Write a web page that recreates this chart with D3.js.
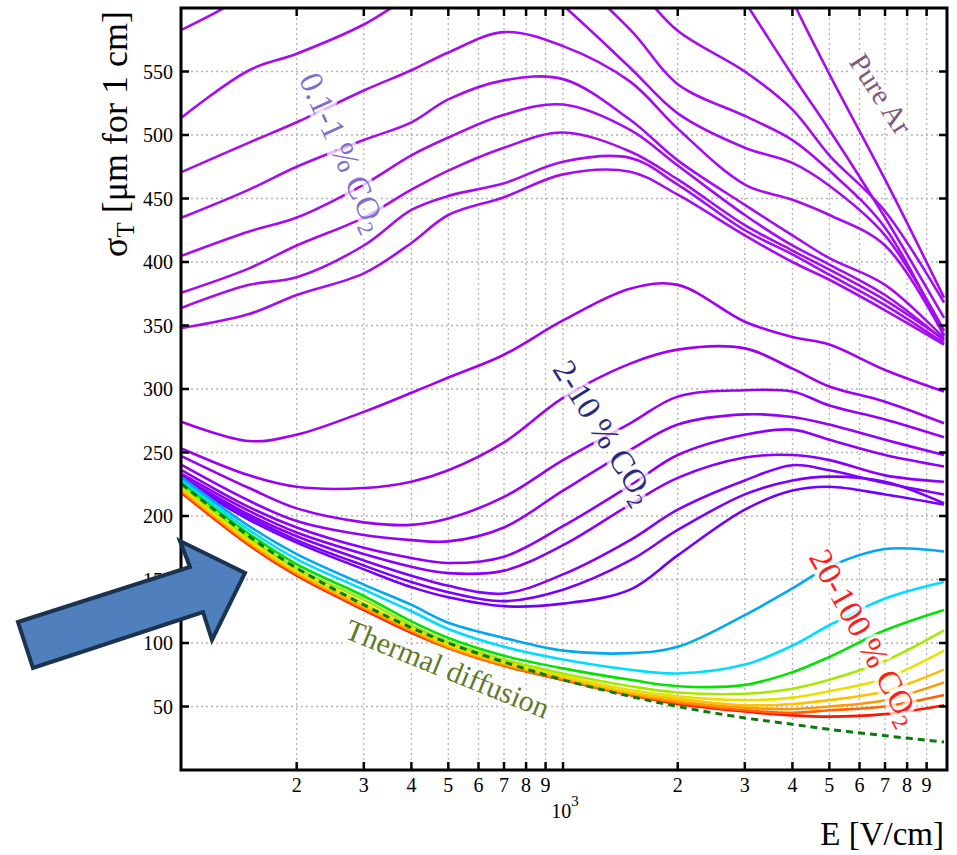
<!DOCTYPE html>
<html>
<head>
<meta charset="utf-8">
<script src="https://cdn.jsdelivr.net/npm/d3@7"></script>
<style>
  body{margin:0;background:#fff;}
  svg{display:block;}
  text{font-family:"Liberation Serif","DejaVu Serif",serif;}
</style>
</head>
<body>
<div id="chart"></div>
<script>
var eField = [100,150,200,300,400,500,700,1000,1500,2000,3000,4000,5000,7000,10000];

// pure Ar + 0.1-1 % CO2 (values > 600 run off the top of the frame)
var pureAr1 = [null,null,null,null,null,null,null,null,null,null,690,606,548,465,372];
var pureAr2 = [null,null,null,null,null,null,null,null,null,685,605,547,504,435,356];
var lowA = [null,null,null,null,null,null,null,660,621,582,550,520,484,440,368];
var lowB = [583,612,645,665,670,665,640,602,553,517,490,478,460,421,346];
var lowC = [514,551,564,587,610,625,640,628,583,540,515,496,472,427,342];
var lowD = [471,494,510,535,551,565,581,570,542,505,461,449,437,413,342];
var lowE = [435,457,475,496,510,528,543,544,512,480,445,421,403,382,340];
var lowF = [405,424,435,461,484,498,516,524,504,476,437,413,398,374,338];
var lowG = [376,395,413,435,457,472,490,502,487,465,429,409,394,370,339];
var lowH = [364,382,388,413,441,452,462,479,482,461,425,406,390,366,336];
var lowI = [348,359,374,391,415,437,451,469,471,453,421,400,386,362,335];

// 2-10 % CO2
var midA = [274,259,264,282,297,309,327,354,379,382,353,341,335,315,298];
var midB = [253,232,223,222,227,236,258,293,320,331,332,316,302,290,273];
var midC = [247,222,206,195,193,198,215,244,273,294,299,298,287,276,262];
var midD = [240,212,196,185,181,180,191,220,252,272,280,278,272,260,248];
var midE = [236,207,191,175,167,163,168,192,224,248,264,268,260,248,239];
var midF = [233,204,187,170,160,155,157,177,209,230,246,248,244,232,227];
var midG = [231,201,184,165,153,145,139,154,181,205,228,240,236,226,217];
var midH = [229,199,181,161,148,140,133,142,165,189,217,228,231,227,210];
var midI = [228,197,179,158,144,136,129,131,142,169,205,220,223,217,209];

// 20-100 % CO2
var highA = [230,192,170,146,130,116,104,94,92,97,122,143,160,174,172];
var highB = [228,189,166,142,125,111,97,87,79,76,83,98,114,135,148];
var highC = [226,186,162,137,117,104,90,80,71,66,67,77,89,110,126];
var highD = [224,183,159,134,114,101,87,76,66,61,60,64,71,86,110];
var highE = [222,181,157,131,112,99,85,74,63,58,55,57,62,72,94];
var highF = [221,180,156,129,111,98,84,73,61,56,51,52,55,62,79];
var highG = [220,179,155,128,110,97,83,72,60,54,49,48,50,55,69];
var highH = [219,178,154,127,109,96,82,71,59,53,47,45,47,50,59];
var highI = [218,177,153,126,108,96,82,71,59,52,46,43,42,44,51];

// thermal diffusion limit
var thermal = [225,184,159,130,112,100,85,71,58,50,41,36,32,27,22];

// axis ticks
var xTicks = [200,300,400,500,600,700,800,900,1000,2000,3000,4000,5000,6000,7000,8000,9000];
var xTickLabels = ['2','3','4','5','6','7','8','9','','2','3','4','5','6','7','8','9'];
var yTicks = [50,100,150,200,250,300,350,400,450,500,550];

var lowSeries = [pureAr1,pureAr2,lowA,lowB,lowC,lowD,lowE,lowF,lowG,lowH,lowI];
var midSeries = [midA,midB,midC,midD,midE,midF,midG,midH,midI];
var highSeries = [highA,highB,highC,highD,highE,highF,highG,highH,highI];
var midColors = ['#a200f2','#9e00f3','#9a00f5','#9500f7','#9000f8','#8a00fa','#8300fb','#7c00fd','#7300ff'];
var highColors = ['#00a8f0','#00dcff','#00e400','#a8e800','#e8e000','#ffc000','#ff9800','#ff6400','#ff1400'];

var m = {t:8, r:10, b:85, l:181},
    w = 947 - m.l,
    h = 770 - m.t;

var svg = d3.select('#chart').append('svg')
    .attr('width', 957)
    .attr('height', 855);

var x = d3.scaleLog().domain([99.4, 10180]).range([0, w]),
    y = d3.scaleLinear().domain([0, 600]).range([h, 0]);

var plot = svg.append('g').attr('transform', 'translate(' + m.l + ',' + m.t + ')');

plot.append('clipPath').attr('id', 'clip')
  .append('rect').attr('width', w).attr('height', h);

//grid
plot.selectAll('.gx').data(xTicks).enter().append('line')
    .attr('x1', function(d){ return x(d); }).attr('x2', function(d){ return x(d); })
    .attr('y1', 0).attr('y2', h)
    .attr('stroke', '#b4b4b4').attr('stroke-width', 1.3).attr('stroke-dasharray', '2,3');
plot.selectAll('.gy').data(yTicks).enter().append('line')
    .attr('y1', function(d){ return y(d); }).attr('y2', function(d){ return y(d); })
    .attr('x1', 0).attr('x2', w)
    .attr('stroke', '#b4b4b4').attr('stroke-width', 1.3).attr('stroke-dasharray', '2,3');

//curves
var line = d3.line()
    .defined(function(d){ return d[1] != null; })
    .x(function(d){ return x(d[0]); })
    .y(function(d){ return y(d[1]); })
    .curve(d3.curveCatmullRom.alpha(0.5));

function pts(vals){ return eField.map(function(e, i){ return [e, vals[i]]; }); }

var curves = plot.append('g').attr('clip-path', 'url(#clip)');

curves.selectAll('.low').data(lowSeries).enter().append('path')
    .attr('d', function(d){ return line(pts(d)); })
    .attr('fill', 'none').attr('stroke', '#a60cf0').attr('stroke-width', 2.6);

curves.selectAll('.mid').data(midSeries).enter().append('path')
    .attr('d', function(d){ return line(pts(d)); })
    .attr('fill', 'none')
    .attr('stroke', function(d, i){ return midColors[i]; })
    .attr('stroke-width', 2.6);

curves.selectAll('.high').data(highSeries.slice().reverse()).enter().append('path')
    .attr('d', function(d){ return line(pts(d)); })
    .attr('fill', 'none')
    .attr('stroke', function(d, i){ return highColors[highColors.length - 1 - i]; })
    .attr('stroke-width', 2.6);

curves.append('path')
    .attr('d', line(pts(thermal)))
    .attr('fill', 'none').attr('stroke', '#0c7a0c')
    .attr('stroke-width', 3).attr('stroke-dasharray', '7,5');

//curve labels, white halo fades the lines underneath
function label(txt, sub, cx, cy, ang, size, color){
  var t = plot.append('text')
      .attr('transform', 'translate(' + cx + ',' + cy + ') rotate(' + ang + ')')
      .attr('text-anchor', 'middle')
      .attr('dominant-baseline', 'central')
      .attr('font-size', size)
      .attr('fill', color)
      .attr('stroke', 'rgba(255,255,255,0.72)')
      .attr('stroke-width', 9)
      .attr('paint-order', 'stroke')
      .attr('stroke-linejoin', 'round');
  t.append('tspan').text(txt);
  if(sub){
    t.append('tspan').attr('font-size', size * 0.68).attr('dy', size * 0.3).text(sub);
  }
}
label('0.1-1 % CO', '2', 343 - m.l, 152 - m.t, 66, 33, '#7e70cc');
label('2-10 % CO', '2', 604 - m.l, 432 - m.t, 58, 33, '#2a2a7c');
label('Pure Ar', null, 881 - m.l, 94 - m.t, 57, 29, '#7c5a7e');
label('20-100 % CO', '2', 865 - m.l, 637 - m.t, 61, 33, '#ff1c1c');
label('Thermal diffusion', null, 448 - m.l, 668 - m.t, 22, 30, '#5f7a28');

//frame and ticks
plot.append('rect').attr('width', w).attr('height', h)
    .attr('fill', 'none').attr('stroke', '#000').attr('stroke-width', 3);

var tk = 8;
xTicks.forEach(function(d){
  plot.append('line').attr('x1', x(d)).attr('x2', x(d)).attr('y1', h).attr('y2', h - tk)
      .attr('stroke', '#000').attr('stroke-width', 2.5);
  plot.append('line').attr('x1', x(d)).attr('x2', x(d)).attr('y1', 0).attr('y2', tk)
      .attr('stroke', '#000').attr('stroke-width', 2.5);
});
yTicks.forEach(function(d){
  plot.append('line').attr('y1', y(d)).attr('y2', y(d)).attr('x1', 0).attr('x2', tk)
      .attr('stroke', '#000').attr('stroke-width', 2.5);
  plot.append('line').attr('y1', y(d)).attr('y2', y(d)).attr('x1', w).attr('x2', w - tk)
      .attr('stroke', '#000').attr('stroke-width', 2.5);
});

//tick labels
plot.selectAll('.xl').data(xTicks).enter().append('text')
    .attr('x', function(d){ return x(d); })
    .attr('y', h + 22)
    .attr('text-anchor', 'middle')
    .attr('font-size', 20)
    .text(function(d, i){ return xTickLabels[i]; });

var dec = plot.append('text')
    .attr('x', x(1000) + 2).attr('y', h + 48)
    .attr('text-anchor', 'middle').attr('font-size', 20);
dec.append('tspan').text('10');
dec.append('tspan').attr('font-size', 15).attr('dy', -12).text('3');

plot.selectAll('.yl').data(yTicks).enter().append('text')
    .attr('x', -8)
    .attr('y', function(d){ return y(d); })
    .attr('dy', '0.35em')
    .attr('text-anchor', 'end')
    .attr('font-size', 20)
    .text(String);

//axis titles
var yt = svg.append('text')
    .attr('transform', 'translate(127,134) rotate(-90)')
    .attr('text-anchor', 'middle')
    .attr('font-size', 36);
yt.append('tspan').text('σ');
yt.append('tspan').attr('font-size', 25).attr('dy', 7).text('T');
yt.append('tspan').attr('dy', -7).text(' [μm for 1 cm]');

svg.append('text')
    .attr('x', 944).attr('y', 845)
    .attr('text-anchor', 'end')
    .attr('font-size', 33)
    .text('E [V/cm]');

//block arrow pointing at the low-field region
var arrowPts = [[18,622],[190,567],[180,541],[245,573],[212,640],[203,612],[33,668]];
svg.append('polygon')
    .attr('points', arrowPts.map(function(p){ return p.join(','); }).join(' '))
    .attr('fill', '#4f7fbd')
    .attr('stroke', '#1c3350')
    .attr('stroke-width', 4)
    .attr('stroke-linejoin', 'miter');
</script>
</body>
</html>
